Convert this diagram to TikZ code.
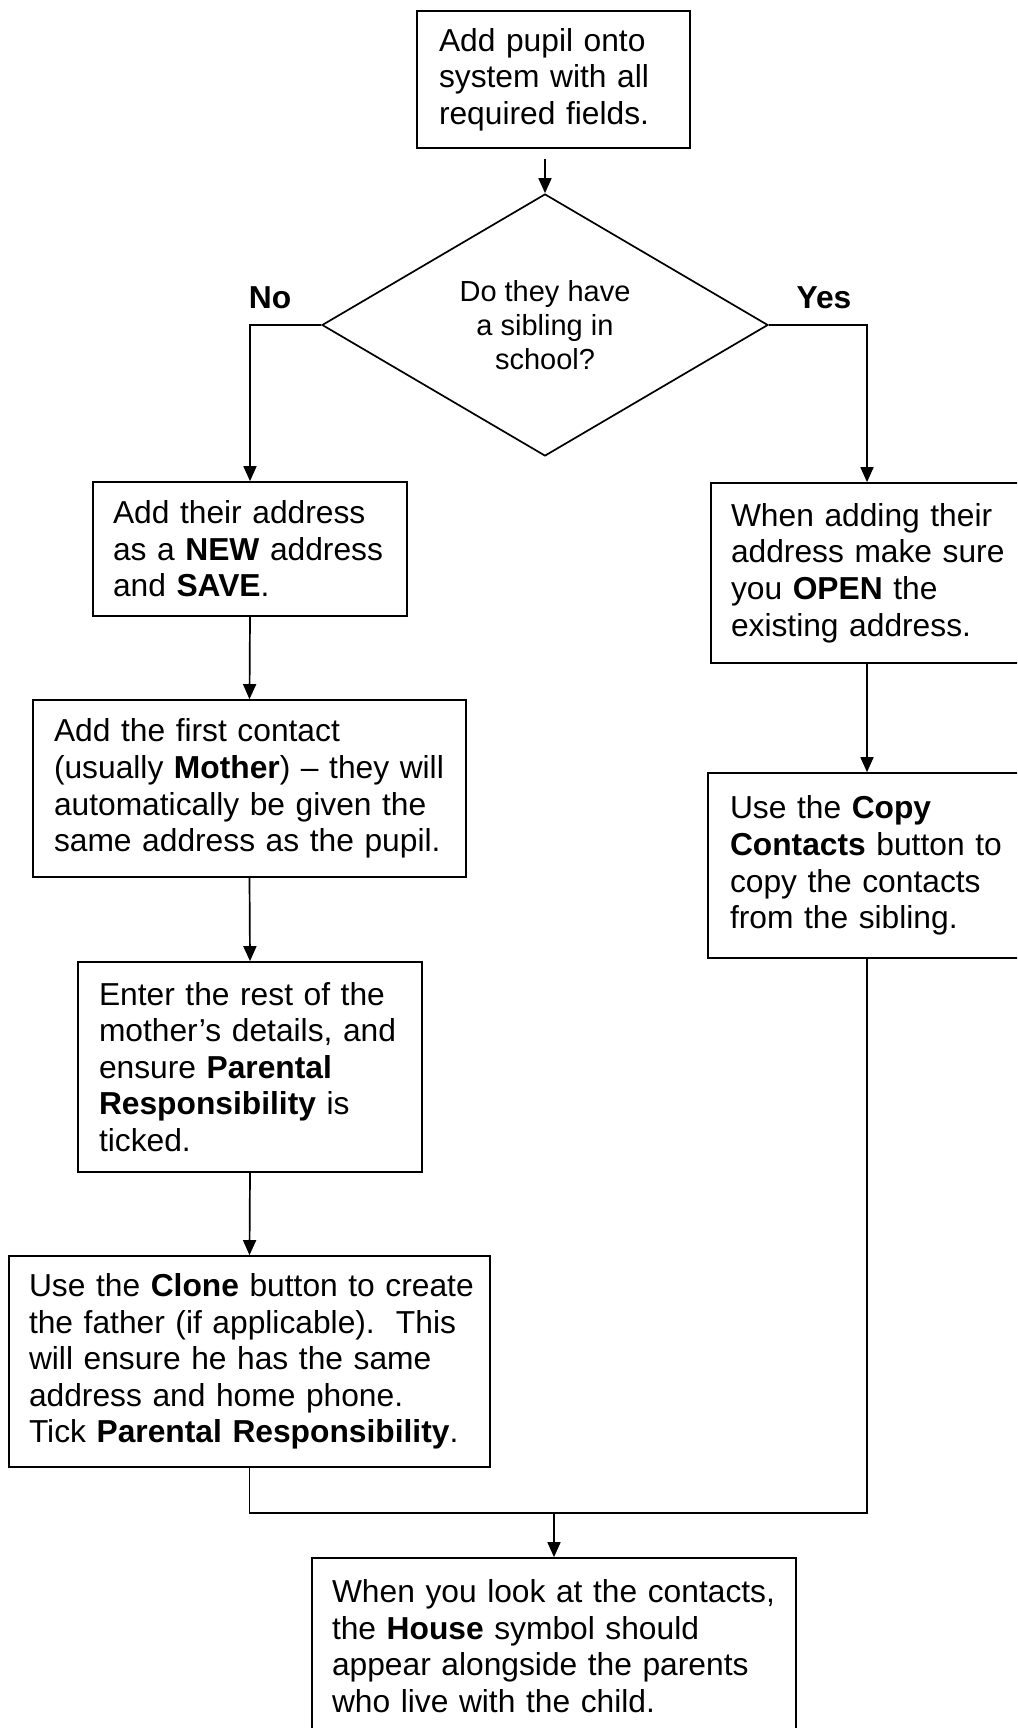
\documentclass[tikz,border=0pt]{standalone}
\usepackage{fontspec}
\setmainfont{Liberation Sans}
\usetikzlibrary{shapes.geometric,arrows.meta}
\begin{document}
\begin{tikzpicture}[x=1pt,y=-1pt,
  ln/.style={line width=1.7pt,black},
  box/.style={draw,ln,rectangle,inner ysep=0pt,anchor=center,align=left,
    font=\fontsize{31.75}{36.6}\selectfont},
  arr/.style={ln,-{Triangle[width=13pt,length=15pt]}},
  lbl/.style={font=\bfseries\fontsize{31.75}{36}\selectfont,inner sep=0pt}]
\clip (0,0) rectangle (1017,1728);
\fill[white] (0,0) rectangle (1017,1728);

\node[box,minimum width=273pt,minimum height=137pt,text width=229pt,inner xsep=22pt] (A) at (553.5,79.5)
  {\mbox{Add pupil onto}\\\mbox{system with all}\\\mbox{required fields.}};

\node[draw,ln,diamond,aspect=1.7,minimum width=446pt,minimum height=262pt,inner sep=0pt,align=center,
  font=\fontsize{29}{34}\selectfont] (q) at (545,325)
  {Do they have\\a sibling in\\school?};

\node[lbl] (no) at (270,298) {No};
\node[lbl] (yes) at (824,298) {Yes};

\node[box,minimum width=314pt,minimum height=134pt,text width=274pt,inner xsep=20pt] (B) at (250,549)
  {\mbox{Add their address}\\\mbox{as a \textbf{NEW} address}\\\mbox{and \textbf{SAVE}.}};

\node[box,minimum width=312pt,minimum height=180pt,text width=272pt,inner xsep=20pt] (C) at (867,573)
  {\mbox{When adding their}\\\mbox{address make sure}\\\mbox{you \textbf{OPEN} the}\\\mbox{existing address.}};

\node[box,minimum width=318pt,minimum height=185pt,text width=274pt,inner xsep=22pt] (D) at (867,865.5)
  {\mbox{Use the \textbf{Copy}}\\\mbox{\textbf{Contacts} button to}\\\mbox{copy the contacts}\\\mbox{from the sibling.}};

\node[box,minimum width=433pt,minimum height=177pt,text width=391pt,inner xsep=21pt] (E) at (249.5,788.5)
  {\mbox{Add the first contact}\\\mbox{(usually \textbf{Mother}) -- they will}\\\mbox{automatically be given the}\\\mbox{same address as the pupil.}};

\node[box,minimum width=344pt,minimum height=210pt,text width=302pt,inner xsep=21pt] (F) at (250,1067)
  {\mbox{Enter the rest of the}\\\mbox{mother’s details, and}\\\mbox{ensure \textbf{Parental}}\\\mbox{\textbf{Responsibility} is}\\\mbox{ticked.}};

\node[box,minimum width=481pt,minimum height=211pt,text width=441pt,inner xsep=20pt] (G) at (249.5,1361.5)
  {\mbox{Use the \textbf{Clone} button to create}\\\mbox{the father (if applicable).\ \ This}\\\mbox{will ensure he has the same}\\\mbox{address and home phone.}\\\mbox{Tick \textbf{Parental Responsibility}.}};

\node[box,minimum width=484pt,minimum height=176pt,text width=444pt,inner xsep=20pt] (H) at (554,1646)
  {\mbox{When you look at the contacts,}\\\mbox{the \textbf{House} symbol should}\\\mbox{appear alongside the parents}\\\mbox{who live with the child.}};

\coordinate (j) at (554,1513);

\draw[arr] ([yshift=-10pt]A.south -| q.north) -- (q.north);
\draw[arr] (q.west) -| (B.north);
\draw[arr] (q.east) -| (C.north);
\draw[arr] (B.south) -- (E.north);
\draw[arr] (E.south) -- (F.north);
\draw[arr] (F.south) -- (G.north);
\draw[arr] (C.south) -- (D.north);
\draw[ln] (G.south) |- (j);
\draw[ln] (D.south) |- (j);
\draw[arr] (j) -- (H.north);
\end{tikzpicture}
\end{document}
